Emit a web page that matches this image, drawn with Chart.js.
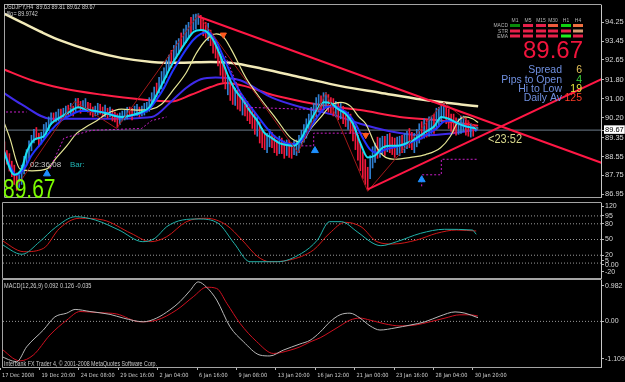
<!DOCTYPE html>
<html><head><meta charset="utf-8">
<script src="https://cdn.jsdelivr.net/npm/chart.js@4.4.1/dist/chart.umd.min.js"></script>
<style>
html,body{margin:0;padding:0;background:#000;width:625px;height:382px;overflow:hidden}
canvas{position:absolute;left:0}
</style></head><body>
<canvas id="cMain" style="top:0" width="625" height="202"></canvas>
<canvas id="cSto" style="top:202px" width="625" height="77"></canvas>
<canvas id="cMacd" style="top:279px" width="625" height="103"></canvas>
<script>
// ---------- axis labels ----------
const xTickBars = [0,16,32,48,64,80,96,112,128,144,160,176,192];
const xLabels = ['17 Dec 2008','19 Dec 20:00','24 Dec 08:00','29 Dec 16:00','2 Jan 04:00','6 Jan 16:00','9 Jan 08:00','13 Jan 20:00','16 Jan 12:00','21 Jan 00:00','23 Jan 16:00','28 Jan 04:00','30 Jan 20:00'];
const priceTicks = [94.25,93.45,92.65,91.80,91.00,90.20,89.35,88.55,87.75,86.95];
const lastPrice = 89.67;
const stochTickPos = [113.9,95,80,50,20,9,1.5,-12];
const stochTickLabels = ['120','95','80','50','20','5','0.00','-20'];
const stochLevels = [95,80,50,20,5];
const macdTickPos = [0.861,0,-0.914];
const macdTickLabels = ['0.982','0.00','-1.109'];

// ---------- price bars (bar index 1..193) ----------
const barFirst = 1;
const barHigh = [89.17,88.80,88.67,88.35,88.18,87.85,87.89,88.18,88.55,88.84,
89.21,89.45,89.70,89.78,89.54,89.58,89.91,89.99,90.23,90.40,
90.40,90.44,90.56,90.56,90.60,90.69,90.73,90.81,90.69,91.01,
91.02,90.89,90.93,91.01,90.85,90.81,90.65,90.69,90.81,90.77,
90.65,90.73,90.60,90.65,90.56,90.44,90.36,90.40,90.48,90.52,
90.64,90.65,90.60,90.69,90.77,90.65,90.69,90.81,90.85,91.05,
91.26,91.50,91.67,91.91,92.16,92.32,92.65,92.86,93.06,93.27,
93.47,93.56,93.80,93.97,94.13,94.25,94.46,94.58,94.60,94.62,
94.55,94.42,94.25,94.21,93.92,93.76,93.47,93.22,92.90,92.53,
92.32,91.99,91.83,91.58,91.46,91.38,91.22,91.13,91.01,90.89,
90.68,90.56,90.39,90.23,90.02,89.74,89.58,89.53,89.70,89.58,
89.45,89.25,89.41,89.33,89.21,89.25,89.25,89.13,89.21,89.25,
89.45,89.66,89.90,90.15,90.35,90.64,90.81,91.05,91.18,91.13,
91.26,91.26,91.18,91.05,91.01,90.89,90.85,90.81,90.68,90.48,
90.44,90.35,90.11,89.82,89.45,89.08,88.75,88.42,88.09,88.59,
88.96,89.12,89.37,89.33,89.41,89.41,89.49,89.53,89.37,89.33,
89.37,89.41,89.45,89.53,89.62,89.74,89.58,89.53,89.70,89.94,
90.03,90.15,90.11,90.23,90.27,90.35,90.60,90.64,90.76,90.77,
90.68,90.56,90.35,90.35,90.19,90.15,90.27,90.27,90.19,90.07,
89.95,89.91,89.81];
const barLow = [88.51,88.22,87.93,87.69,87.36,87.11,87.23,87.36,87.81,88.18,
88.47,88.79,89.12,89.28,88.96,89.08,89.33,89.49,89.65,89.90,
89.98,90.02,90.06,90.14,90.18,90.19,90.31,90.31,90.27,90.43,
90.60,90.39,90.51,90.51,90.43,90.31,90.23,90.27,90.31,90.35,
90.23,90.23,90.18,90.23,90.06,90.02,89.78,89.90,90.06,90.10,
90.14,90.23,90.10,90.27,90.27,90.23,90.27,90.31,90.43,90.47,
90.68,90.84,91.09,91.25,91.42,91.66,91.91,92.20,92.32,92.61,
92.73,92.90,93.06,93.31,93.39,93.59,93.72,93.92,93.96,94.16,
93.92,93.68,93.59,93.47,93.26,92.94,92.73,92.40,92.00,91.71,
91.42,91.17,90.93,90.76,90.72,90.56,90.48,90.31,90.27,90.07,
89.94,89.74,89.49,89.41,89.12,88.92,88.84,88.71,88.96,88.92,
88.71,88.59,88.67,88.67,88.47,88.59,88.51,88.47,88.63,88.59,
88.71,89.00,89.16,89.33,89.61,89.82,90.07,90.23,90.44,90.48,
90.52,90.60,90.44,90.39,90.27,90.23,90.11,90.15,89.94,89.82,
89.70,89.53,89.21,88.84,88.39,87.94,87.61,87.36,87.15,87.61,
88.06,88.30,88.47,88.51,88.67,88.59,88.75,88.71,88.63,88.51,
88.63,88.59,88.71,88.71,88.88,88.92,88.84,88.71,88.96,89.12,
89.29,89.33,89.37,89.41,89.53,89.53,89.70,89.82,90.02,90.19,
89.94,89.74,89.61,89.53,89.45,89.49,89.53,89.61,89.45,89.41,
89.37,89.41,89.62];
const barUp = [0,0,0,0,0,0,1,1,1,1, 1,1,1,0,0,1,1,1,1,1, 0,1,1,0,1,1,0,1,0,1, 0,0,1,1,0,0,0,1,1,0,
0,1,0,1,0,0,0,1,1,1, 1,0,0,1,1,0,1,1,1,1, 1,1,0,1,1,1,1,1,0,1, 1,1,0,1,1,1,0,1,1,1,
0,0,0,1,0,0,0,0,0,0, 0,1,0,0,1,0,0,1,0,0, 0,0,0,1,0,0,0,1,1,0, 0,0,1,0,0,1,0,0,1,1,
1,1,1,1,1,1,1,1,1,0, 1,1,0,0,0,1,0,1,0,0, 1,0,0,0,0,0,0,0,0,1, 1,1,0,1,1,0,1,0,0,0,
1,1,0,1,1,0,0,1,1,1, 0,1,0,1,1,0,1,1,1,1, 0,0,0,0,0,1,1,1,0,0, 1,0,1];

// ---------- moving averages & overlays (x = bar index) ----------
const beigeX = [0,8,16,24,37,49,61,73,85,93,106,122,138,154,171,187,194];
const beigeY = [94.66,94.25,93.84,93.47,93.02,92.73,92.57,92.53,92.57,92.53,92.28,91.91,91.54,91.26,90.97,90.76,90.68];
const redMaX = [0,12,24,41,57,69,77,85,91,99,110,122,134,146,162,179,194];
const redMaY = [92.28,91.79,91.46,91.17,90.97,90.89,91.17,91.50,91.67,91.54,91.17,90.89,90.68,90.52,90.23,90.07,89.86];
const blueMaX = [0,8,20,41,61,69,75,81,87,97,110,122,134,146,158,171,183,194];
const blueMaY = [91.30,90.76,90.15,90.15,90.23,90.89,91.46,91.83,91.91,91.79,91.05,90.64,90.35,89.94,89.62,89.45,89.53,89.70];
const cyanX = [0,5,8,10,13,17,20,24,28,31,34,38,42,46,49,53,57,60,63,66,69,72,75,78,81,83,86,89,92,95,98,101,104,107,110,113,116,119,122,125,128,131,134,137,140,143,146,149,152,155,158,161,164,167,170,173,176,179,182,185,188,191,194];
const cyanY = [89.00,87.77,88.02,88.71,89.25,89.41,89.94,90.23,90.48,90.64,90.56,90.48,90.40,90.27,90.23,90.31,90.44,90.64,91.17,91.79,92.41,92.94,93.43,93.84,93.92,93.88,93.51,92.82,92.00,91.38,90.97,90.48,90.07,89.54,89.33,89.12,89.04,89.00,89.33,89.94,90.48,90.85,90.81,90.56,90.36,89.94,89.12,88.51,88.59,88.92,89.00,89.00,89.08,89.21,89.41,89.62,89.82,90.23,90.15,89.99,89.86,89.78,89.74];
const blue2X = [0,6,9,12,16,20,24,28,32,36,40,44,48,52,56,60,63,66,69,72,75,78,81,84,87,90,93,96,99,102,105,108,111,114,117,120,123,126,129,132,135,138,141,144,147,150,153,156,159,162,165,168,171,174,177,180,183,186,189,192,194];
const blue2Y = [88.92,87.77,88.02,88.59,89.12,89.66,90.07,90.31,90.48,90.48,90.44,90.36,90.23,90.27,90.36,90.56,90.97,91.46,92.08,92.61,93.10,93.51,93.76,93.84,93.51,92.82,92.12,91.46,90.97,90.56,90.15,89.74,89.41,89.21,89.08,89.08,89.33,89.82,90.31,90.64,90.68,90.56,90.36,89.94,89.33,88.84,88.71,88.84,88.92,89.00,89.08,89.21,89.33,89.54,89.74,90.03,90.07,89.94,89.82,89.78,89.74];
const yellowX = [0,3.2,7.3,12.2,18.3,22.3,26.4,30.5,34.5,38.6,42.6,48.7,54.8,60.9,65,69.8,75.1,79.2,83.2,87.3,90.2,93.4,99.5,105.6,111.7,117.8,121.8,125.9,130,134,138,142.1,145.4,148.2,152.3,156.3,160.4,166.5,172.6,178.7,182.7,186,188.8,191.7,194];
const yellowY = [90.23,89.33,88.02,87.94,88.02,88.51,89.00,89.54,89.82,90.07,90.36,90.56,90.52,90.56,90.77,91.38,92.12,92.94,93.51,93.76,93.63,93.10,91.87,90.97,90.15,89.33,89.17,89.74,90.23,90.72,90.85,90.68,90.23,89.94,89.00,88.51,88.43,88.51,88.63,88.92,89.41,90.07,90.23,90.15,89.99];
const mag1X = [19.5,25.2,36.5,56.9,60.9,67];
const mag1Y = [88.02,89.33,89.66,89.74,90.07,90.23];
const mag2X = [0,10];
const mag2Y = [90.44,90.44];
const mag3X = [91,97.5,99.5,122,134];
const mag3Y = [92.82,91.17,90.64,90.56,90.56];
const mag4X = [122,127,127,150];
const mag4Y = [89.00,89.00,89.54,89.54];
const mag5X = [171,171,179,179,194];
const mag5Y = [87.28,87.77,87.77,88.43,88.43];
const zigzagX = [6.1,29.6,46.7,80,120.6,132,149,180,194];
const zigzagY = [87.28,90.89,89.74,94.58,88.71,91.26,87.07,90.85,89.70];
const trendUpX = [80,250];
const trendUpY = [94.50,88.06];
const trendLowX = [149,250];
const trendLowY = [87.15,92.12];
const upArrowX = [18.3,127.5,171];
const upArrowY = [87.81,88.80,87.56];
const downArrowX = [90.2,148.2];
const downArrowY = [93.72,89.45];

// ---------- stochastic ----------
const stochMainX = [0,8.9,16.1,22.6,30.6,38.7,48.3,58.0,62.9,67.7,74.1,80.6,88.6,95.1,101.5,112.8,122.5,128.9,133.8,138.6,145.0,151.5,154.7,161.1,170.8,180.5,191.8,193.4];
const stochMainY = [42.7,21.8,45.8,73.3,93.5,87.2,68.1,45.8,52.3,74.4,87.2,89.1,80.9,42.7,7.6,7.6,23.7,49.0,84.0,84.0,64.9,42.7,38.2,45.8,61.8,69.5,68.1,59.9];
const stochSigX = [0,9.7,17.7,24.2,32.2,41.9,53.2,61.2,67.7,75.7,83.8,91.9,98.3,104.7,109.6,117.6,127.3,133.8,140.2,146.6,153.1,159.6,169.2,177.3,185.3,193.4];
const stochSigY = [50.4,26.7,33.2,71.4,90.5,87.2,61.8,45.8,55.3,84.0,90.5,77.7,49.0,17.2,7.6,10.9,30.0,61.8,82.8,74.4,45.8,41.4,49.0,61.8,68.1,66.2];

// ---------- MACD ----------
const macdX = [0,6.8,10.8,17.6,22.3,27.1,30.5,36.5,44.7,50.1,58.2,63.6,69.0,73.1,77.2,80.5,83.9,88.0,93.4,98.8,105.6,109.6,115.0,121.8,125.9,130.0,134.0,138.1,142.1,146.2,150.3,154.3,160.4,166.5,172.6,178.7,184.8,188.8,194.1];
const macdY = [-0.84,-0.98,-0.62,-0.21,0.11,0.20,0.29,0.24,0.17,0.08,-0.01,0.08,0.28,0.48,0.75,0.96,0.83,0.52,-0.13,-0.49,-0.82,-0.84,-0.70,-0.55,-0.46,-0.26,-0.01,0.16,0.20,0.08,-0.11,-0.21,-0.16,-0.09,-0.01,0.13,0.23,0.20,0.09];
const sigX = [0,8.1,13.5,20.3,27.1,32.5,40.6,47.4,56.9,63.6,71.8,78.5,83.9,88.0,92.1,97.5,104.2,111.0,117.8,121.8,125.9,130.0,134.0,138.1,142.1,146.2,150.3,156.3,162.4,168.5,174.6,180.7,186.8,190.9,194.1];
const sigY = [-0.64,-0.96,-0.82,-0.33,0.03,0.24,0.21,0.18,-0.01,0.03,0.28,0.60,0.83,0.80,0.44,-0.05,-0.49,-0.78,-0.70,-0.62,-0.50,-0.40,-0.26,-0.11,0.03,0.08,0.03,-0.06,-0.11,-0.09,-0.01,0.08,0.16,0.16,0.13];

// ---------- HUD texts ----------
const hudTF = ['M1','M5','M15','M30','H1','H4'];
const hudRows = ['MACD','STR','EMA'];
const hudCells = [
 ['#0A8A0A','#E8204A','#E8204A','#F05A3C','#10D010','#F07040'],
 ['#E8204A','#E8204A','#E8204A','#E8204A','#E8204A','#D89A70'],
 ['#E8204A','#E8204A','#E8204A','#E8204A','#20F020','#E8204A']];
const infoLabels = ['Spread','Pips to Open','Hi to Low','Daily Av'];
const infoValues = ['6','4','19','125'];
const infoColors = ['#E6C25A','#3CD83C','#E6E63C','#FF3C28'];

// ---------- ranges ----------
const X_MIN = 1.218, X_MAX = 244.06;
const PRICE_MIN = 86.826, PRICE_MAX = 94.988;
const STOCH_MIN = -23.47, STOCH_MAX = 119.66;
const MACD_MIN = -1.109, MACD_MAX = 1.006;
const FONT = "'Liberation Sans', Arial, Helvetica, sans-serif";
const XFONT = "'Liberation Sans Narrow', 'DejaVu Sans Condensed', 'Liberation Sans', Arial, sans-serif";

// choose an x-label font size so that a label is about as wide as in the picture
const xFontSize = (function(){
  const c = document.createElement('canvas').getContext('2d');
  c.font = '10px ' + XFONT;
  const w = c.measureText('19 Dec 20:00').width;
  return Math.max(5, Math.min(7.5, 10 * 34 / w));
})();

function pts(xs, ys){ return xs.map((x,k)=>({x:x, y:ys[k]})); }
function lineDs(xs, ys, color, width, order, extra){
  return Object.assign({type:'line', data:pts(xs,ys), borderColor:color, borderWidth:width,
    pointRadius:0, tension:0, fill:false, order:order}, extra||{});
}
function baseOpts(){
  return {responsive:false, animation:false, devicePixelRatio:1, events:[],
    plugins:{legend:{display:false}, tooltip:{enabled:false}},
    elements:{point:{radius:0}}};
}
function xAxis(show){
  const a = {type:'linear', min:X_MIN, max:X_MAX, offset:false, bounds:'data', display:show};
  if (show){
    Object.assign(a, {position:'bottom',
      afterFit(s){ s.height=15; s.paddingLeft=0; s.paddingRight=0; },
      afterBuildTicks(s){ s.ticks = xTickBars.map(v=>({value:v})); },
      ticks:{autoSkip:false, maxRotation:0, minRotation:0, align:'start', labelOffset:2, padding:3,
        color:'#d0d0d0', font:{family:XFONT, size:xFontSize, lineHeight:1}, callback:(v,i)=>xLabels[i]},
      grid:{drawOnChartArea:false, drawTicks:true, tickLength:3, color:'#b8b8b8'},
      border:{display:true, color:'#c8c8c8'}});
  }
  return a;
}
function yAxis(min, max, tickVals, labelFn, tickExtra){
  return {type:'linear', position:'right', min:min, max:max, bounds:'data',
    afterFit(s){ s.width=24; s.paddingTop=0; s.paddingBottom=0; },
    afterBuildTicks(s){ s.ticks = tickVals.map(v=>({value:v})); },
    ticks:Object.assign({autoSkip:false, callback:labelFn, color:'#d8d8d8',
      font:{family:FONT, size:7.5, lineHeight:1}, padding:1}, tickExtra||{}),
    grid:{drawOnChartArea:false, drawTicks:true, tickLength:3, color:'#b8b8b8'},
    border:{display:true, color:'#c8c8c8'}};
}
const framePlugin = {id:'frame', afterDraw(ch){
  const a = ch.chartArea, c = ch.ctx; c.save(); c.strokeStyle='#a4a4a4'; c.lineWidth=1;
  c.beginPath();
  c.moveTo(a.right+0.5, a.top-0.5); c.lineTo(a.left-0.5, a.top-0.5);
  c.lineTo(a.left-0.5, a.bottom+0.5); c.lineTo(a.right+0.5, a.bottom+0.5);
  c.stroke(); c.restore();
}};
function txt(c, s, x, y, size, color, align, sx){
  c.save(); c.font = size+'px '+FONT; c.fillStyle=color; c.textAlign=align||'left';
  c.textBaseline='alphabetic'; c.translate(x,y); c.scale(sx||1,1); c.fillText(s,0,0); c.restore();
}

// ---------- main chart ----------
const bullBars = [], bearBars = [];
barHigh.forEach((h,k)=>{ const d = {x:barFirst+k, y:[barLow[k], h]}; (barUp[k]?bullBars:bearBars).push(d); });

const hudPlugin = {id:'hud', afterDraw(ch){
  const c = ch.ctx;
  txt(c,'USDJPY,H4  89.63 89.81 89.62 89.67',4,9,7,'#d0d0d0','left',0.78);
  txt(c,'Hilo= 89.9742',4,16,7,'#d0d0d0','left',0.78);
  const cx = [515,528,541,553,566,578];
  hudTF.forEach((t,k)=>txt(c,t,cx[k],22,5.5,'#b4b4b4','center',0.9));
  const ry = [24,29.5,34.5];
  hudRows.forEach((r,k)=>txt(c,r,508,ry[k]+3,5.5,'#b4b4b4','right',0.9));
  hudCells.forEach((row,r)=>row.forEach((col,k)=>{ c.fillStyle=col; c.fillRect(cx[k]-5, ry[r], 10, 3); }));
  txt(c,'89.67',523,58,24,'#F0143C','left',1);
  const ly = [73,83,92,101];
  infoLabels.forEach((l,k)=>{ txt(c,l,562,ly[k],10.5,'#6F8FDF','right',1); txt(c,infoValues[k],582,ly[k],10.5,infoColors[k],'right',1); });
  txt(c,'<23:52',488,143,12,'#D6D68A','left',0.92);
  txt(c,'02:36:08',30,167,8,'#c8c8c8','left',1);
  txt(c,'Bar:',70,167,8,'#20B4B4','left',1);
  txt(c,'89.67',3,198,28,'#7CFC00','left',0.75);
}};

const magOpts = {borderDash:[2,2]};
new Chart(document.getElementById('cMain'), {
  type:'line',
  data:{datasets:[
    lineDs([X_MIN,X_MAX],[lastPrice,lastPrice],'#6d7c8c',1,100),
    lineDs(beigeX,beigeY,'#F2EAB8',2.5,90,{cubicInterpolationMode:'monotone'}),
    lineDs(redMaX,redMaY,'#FF1E46',2,85,{cubicInterpolationMode:'monotone'}),
    lineDs(blueMaX,blueMaY,'#3F2BEA',2,80,{cubicInterpolationMode:'monotone'}),
    {type:'bar', data:bullBars, backgroundColor:'#2F7FD0', barThickness:1, grouped:false, order:70},
    {type:'bar', data:bearBars, backgroundColor:'#F2183C', barThickness:1, grouped:false, order:69},
    lineDs(yellowX,yellowY,'#E6E696',1.2,60,{cubicInterpolationMode:'monotone'}),
    lineDs(blue2X,blue2Y,'#2234FF',2,55,{cubicInterpolationMode:'monotone'}),
    lineDs(cyanX,cyanY,'#18E0F2',2,50,{cubicInterpolationMode:'monotone'}),
    lineDs(mag1X,mag1Y,'#C81EC8',1,40,magOpts),
    lineDs(mag2X,mag2Y,'#C81EC8',1,40,magOpts),
    lineDs(mag3X,mag3Y,'#C81EC8',1,40,magOpts),
    lineDs(mag4X,mag4Y,'#C81EC8',1,40,magOpts),
    lineDs(mag5X,mag5Y,'#C81EC8',1,40,magOpts),
    lineDs(zigzagX,zigzagY,'#A01818',1,35),
    lineDs(trendUpX,trendUpY,'#FF1744',2,30),
    lineDs(trendLowX,trendLowY,'#FF1744',2,30),
    {type:'line', data:pts(upArrowX,upArrowY), showLine:false, pointStyle:'triangle', pointRadius:4,
      pointBackgroundColor:'#1E90FF', pointBorderColor:'#1E90FF', pointBorderWidth:1, order:10},
    {type:'line', data:pts(downArrowX,downArrowY), showLine:false, pointStyle:'triangle', pointRadius:3.5,
      pointRotation:180, pointBackgroundColor:'#FF5A1E', pointBorderColor:'#FF5A1E', pointBorderWidth:1, order:10}
  ]},
  options:Object.assign(baseOpts(), {
    layout:{padding:{left:3, top:2, right:0, bottom:1}},
    scales:{
      x:xAxis(false),
      y:yAxis(PRICE_MIN, PRICE_MAX, priceTicks.concat([lastPrice]), v=>Number(v).toFixed(2), {
        color:c=> (c.tick && c.tick.value===lastPrice) ? '#000' : '#d8d8d8',
        showLabelBackdrop:c=> !!(c.tick && c.tick.value===lastPrice),
        backdropColor:'#ffffff', backdropPadding:{top:1,bottom:0,left:1,right:1}})
    }
  }),
  plugins:[framePlugin, hudPlugin]
});

// ---------- stochastic chart ----------
const stoDs = stochLevels.map(l=>lineDs([X_MIN,X_MAX],[l,l],'#9a9a9a',1,50,{borderDash:[1,2]}));
stoDs.push(lineDs(stochSigX,stochSigY,'#D01818',1,20,{cubicInterpolationMode:'monotone'}));
stoDs.push(lineDs(stochMainX,stochMainY,'#20B2AA',1,10,{cubicInterpolationMode:'monotone'}));
new Chart(document.getElementById('cSto'), {
  type:'line', data:{datasets:stoDs},
  options:Object.assign(baseOpts(), {
    layout:{padding:{left:3, top:1, right:0, bottom:1}},
    scales:{ x:xAxis(false), y:yAxis(STOCH_MIN, STOCH_MAX, stochTickPos, (v,i)=>stochTickLabels[i], {font:{family:FONT,size:7,lineHeight:1}}) }
  }),
  plugins:[framePlugin]
});

// ---------- MACD chart ----------
const macdHud = {id:'macdHud', afterDraw(ch){
  const c = ch.ctx;
  txt(c,'MACD(12,26,9) 0.092 0.126 -0.035',4,9,7,'#d0d0d0','left',0.8);
  txt(c,'Interbank FX Trader 4, \u00a9 2001-2008 MetaQuotes Software Corp.',4,87,7,'#c8c8c8','left',0.76);
}};
new Chart(document.getElementById('cMacd'), {
  type:'line',
  data:{datasets:[
    lineDs([X_MIN,X_MAX],[0,0],'#9a9a9a',1,50,{borderDash:[1,2]}),
    lineDs(sigX,sigY,'#D01020',1,20,{cubicInterpolationMode:'monotone'}),
    lineDs(macdX,macdY,'#B8B8B8',1,10,{cubicInterpolationMode:'monotone'})
  ]},
  options:Object.assign(baseOpts(), {
    layout:{padding:{left:3, top:1, right:0, bottom:0}},
    scales:{ x:xAxis(true), y:yAxis(MACD_MIN, MACD_MAX, macdTickPos, (v,i)=>macdTickLabels[i], {font:{family:FONT,size:7,lineHeight:1}}) }
  }),
  plugins:[framePlugin, macdHud]
});
</script>
</body></html>
